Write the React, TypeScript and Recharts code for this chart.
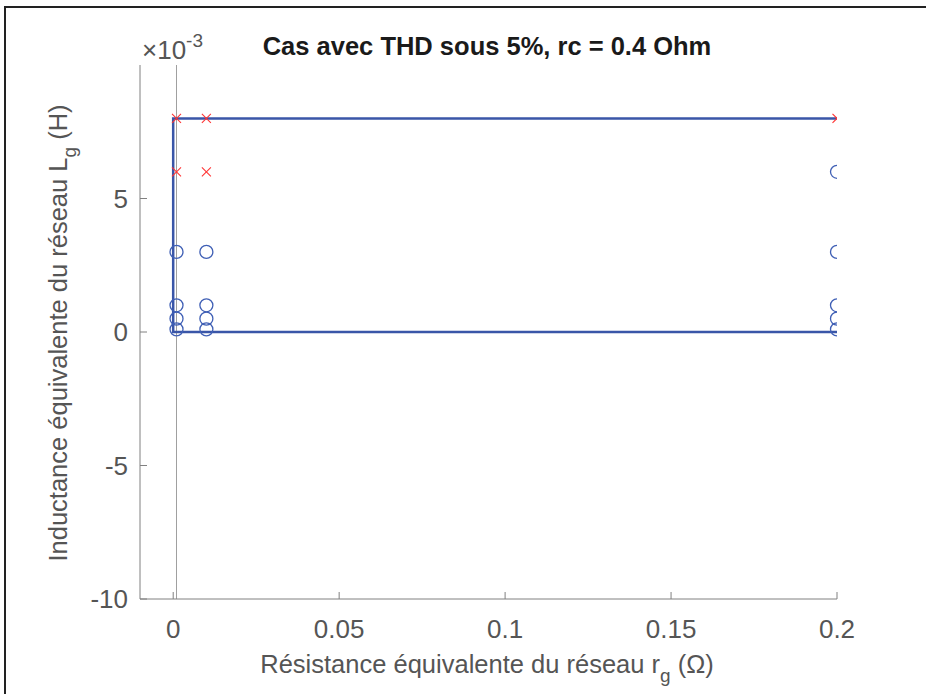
import React from 'react';
import {
  ComposedChart,
  Scatter,
  XAxis,
  YAxis,
  ReferenceLine,
} from 'recharts';

// r_g values (Ohm) and L_g values (H)
const rgOk = [0.001, 0.001, 0.001, 0.001, 0.01, 0.01, 0.01, 0.01, 0.2, 0.2, 0.2, 0.2, 0.2];
const lgOk = [0.003, 0.001, 0.0005, 0.0001, 0.003, 0.001, 0.0005, 0.0001, 0.006, 0.003, 0.001, 0.0005, 0.0001];
const rgFail = [0.001, 0.001, 0.01, 0.01, 0.2];
const lgFail = [0.008, 0.006, 0.008, 0.006, 0.008];
const rgBound = [0.2, 0, 0, 0.2];
const lgBound = [0.008, 0.008, 0, 0];
const rgRef = 0.001;

const xTicks = [0, 0.05, 0.1, 0.15, 0.2];
const yTicks = [-0.01, -0.005, 0, 0.005];

const okPoints = rgOk.map((x, i) => ({ x, y: lgOk[i] }));
const failPoints = rgFail.map((x, i) => ({ x, y: lgFail[i] }));
const boundPoints = rgBound.map((x, i) => ({ x, y: lgBound[i] }));

const FONT = '"Liberation Sans", Arial, Helvetica, sans-serif';
const TXT = '#555555';
const AXIS = '#808080';

const Circle = (p: any) => (
  <circle cx={p.cx} cy={p.cy} r={6.5} fill="none" stroke="#3f5fb5" strokeWidth={1.3} />
);

const Cross = (p: any) => {
  const s = 4.5;
  return (
    <g stroke="#ff3333" strokeWidth={1.1}>
      <line x1={p.cx - s} y1={p.cy - s} x2={p.cx + s} y2={p.cy + s} />
      <line x1={p.cx - s} y1={p.cy + s} x2={p.cx + s} y2={p.cy - s} />
    </g>
  );
};

const NoShape = () => <g />;

const fmtY = (v: number) => String(Math.round(v * 1000));
const fmtX = (v: number) => String(v);

export default function App() {
  return (
    <div style={{ position: 'absolute', left: 0, top: 0, width: 926, height: 694, overflow: 'hidden', background: '#fff' }}>
      <div
        style={{
          position: 'absolute', left: 4, top: 6, width: 1000, height: 800,
          borderTop: '2px solid #222', borderLeft: '2px solid #222',
        }}
      />
      <ComposedChart
        width={926}
        height={694}
        margin={{ top: 65, right: 89, bottom: 35, left: 60 }}
        style={{ position: 'absolute', left: 0, top: 0 }}
      >
        <XAxis
          type="number"
          dataKey="x"
          domain={[-0.01, 0.2]}
          ticks={xTicks}
          tickFormatter={fmtX}
          height={60}
          allowDataOverflow
          stroke={AXIS}
          tickSize={-7}
          tickMargin={28}
          tick={{ fill: TXT, fontSize: 26, fontFamily: FONT }}
        />
        <YAxis
          type="number"
          dataKey="y"
          domain={[-0.01, 0.01]}
          ticks={yTicks}
          tickFormatter={fmtY}
          width={80}
          allowDataOverflow
          stroke={AXIS}
          tickSize={-7}
          tickMargin={19}
          tick={{ fill: TXT, fontSize: 26, fontFamily: FONT }}
        />
        <ReferenceLine x={rgRef} stroke="#a0a0a0" strokeWidth={1} />
        <Scatter
          data={boundPoints}
          line={{ stroke: '#3a56a8', strokeWidth: 2.5 }}
          lineType="joint"
          shape={NoShape}
          isAnimationActive={false}
        />
        <Scatter data={okPoints} shape={Circle} isAnimationActive={false} />
        <Scatter data={failPoints} shape={Cross} isAnimationActive={false} />
      </ComposedChart>
      <svg width={926} height={694} style={{ position: 'absolute', left: 0, top: 0, pointerEvents: 'none' }}>
        <text x={487} y={55} textAnchor="middle" fontFamily={FONT} fontWeight="bold" fontSize={25.5} fill="#1a1a1a">
          Cas avec THD sous 5%, rc = 0.4 Ohm
        </text>
        <text x={142} y={59} fontFamily={FONT} fontSize={26} fill={TXT}>
          <tspan>×10</tspan>
          <tspan dy={-12} fontSize={19}>-3</tspan>
        </text>
        <text x={487} y={673} textAnchor="middle" fontFamily={FONT} fontSize={25.5} fill={TXT}>
          <tspan>Résistance équivalente du réseau r</tspan>
          <tspan dy={9} fontSize={19}>g</tspan>
          <tspan dy={-9}> (Ω)</tspan>
        </text>
        <text
          x={67}
          y={333}
          textAnchor="middle"
          transform="rotate(-90, 67, 333)"
          fontFamily={FONT}
          fontSize={25.5}
          fill={TXT}
        >
          <tspan>Inductance équivalente du réseau L</tspan>
          <tspan dy={9} fontSize={19}>g</tspan>
          <tspan dy={-9}> (H)</tspan>
        </text>
      </svg>
    </div>
  );
}
